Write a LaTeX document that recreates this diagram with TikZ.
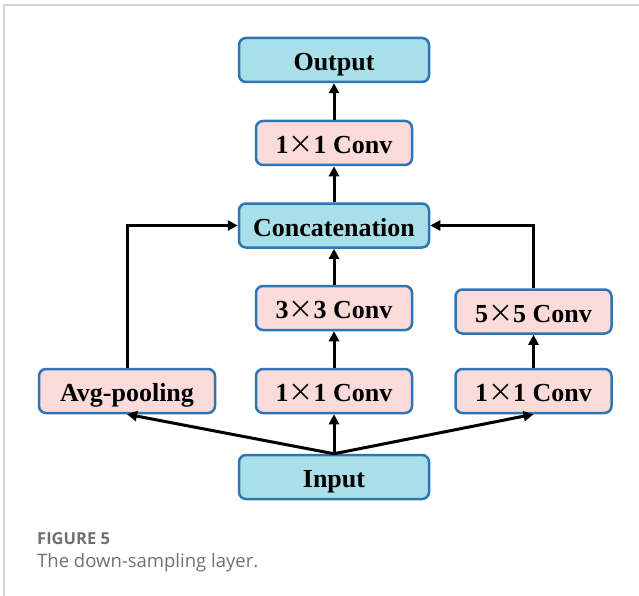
\documentclass[tikz,border=0pt]{standalone}
\usepackage{fontspec}
\setmainfont{Liberation Serif}
\newfontfamily\capfont{Open Sans}
\newfontfamily\cjk[RawFeature=+fwid]{Noto Sans CJK SC}
\usepackage{xcolor}
\usetikzlibrary{arrows.meta, positioning}
\definecolor{boxblue}{RGB}{46, 117, 182}
\definecolor{cyanfill}{RGB}{168, 223, 232}
\definecolor{pinkfill}{RGB}{250, 219, 217}
\definecolor{framegray}{RGB}{212, 212, 212}
\definecolor{captiongray}{RGB}{112, 112, 112}
\newcommand{\bytimes}{{\cjk\mdseries\fontsize{25}{25}\selectfont ×}}

\begin{document}
\begin{tikzpicture}[
    x=1pt, y=-1pt,
    block/.style={rectangle, rounded corners=7pt, minimum width=190pt, minimum height=44pt, text height=21pt, text depth=0pt, align=center, font=\fontsize{26}{28}\selectfont\bfseries, draw=boxblue, line width=2.5pt},
    io/.style={block, fill=cyanfill},
    conv/.style={block, fill=pinkfill, minimum width=156pt},
    arrow/.style={-{Triangle[length=10pt, width=10pt]}, line width=3pt, black}
]
\useasboundingbox (0,0) rectangle (639,596);

% Frame
\draw[framegray, line width=1.5pt] (4,596) -- (4,5) -- (639,5);

% Output
\node[io] (output) at (334,60) {Output};

% 1x1 conv after concatenation
\node[conv] (convtop) at (334,143) {1\bytimes1 Conv};

% Concatenation
\node[io] (concat) at (334,225.5) {Concatenation};

% Branches
\node[conv] (conv3) at (334,308) {3\bytimes3 Conv};
\node[conv] (conv5) at (533.5,311.5) {5\bytimes5 Conv};
\node[conv, minimum width=176pt] (avgpool) at (127,391) {Avg-pooling};
\node[conv] (convmid) at (334,391) {1\bytimes1 Conv};
\node[conv] (convright) at (533.5,391) {1\bytimes1 Conv};

% Input
\node[io] (input) at (334,477) {Input};

% Arrows from input
\draw[arrow] (input.north) -- (avgpool.south);
\draw[arrow] (input.north) -- (convmid.south);
\draw[arrow] (input.north) -- (convright.south);

% Arrows inside branches
\draw[arrow] (convmid.north) -- (conv3.south);
\draw[arrow] (convright.north) -- (conv5.south);

% Arrows to concatenation
\draw[arrow] (avgpool.north) |- (concat.west);
\draw[arrow] (conv3.north) -- (concat.south);
\draw[arrow] (conv5.north) |- (concat.east);

% Arrows to output
\draw[arrow] (concat.north) -- (convtop.south);
\draw[arrow] (convtop.north) -- (output.south);

% Caption
\node[anchor=base west, inner sep=0pt, font=\capfont\bfseries\fontsize{16.5}{20}\selectfont, text=captiongray] (figlabel) at (37,544) {FIGURE 5};
\node[anchor=base west, inner sep=0pt, font=\capfont\fontsize{18.5}{20}\selectfont, text=captiongray] (figcaption) at (37,567) {The down-sampling layer.};
\end{tikzpicture}
\end{document}
